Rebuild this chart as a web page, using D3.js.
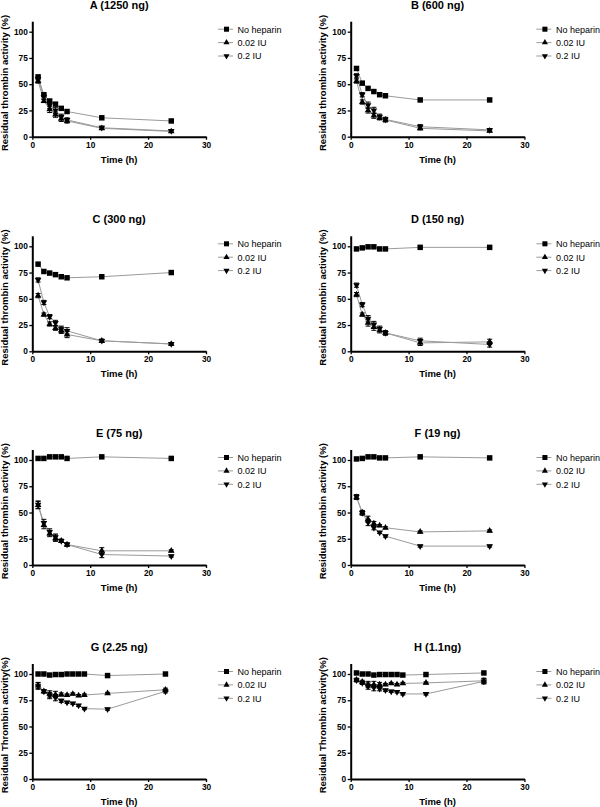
<!DOCTYPE html>
<html>
<head>
<meta charset="utf-8">
<script src="https://cdn.jsdelivr.net/npm/d3@7/dist/d3.min.js"></script>
<style>
html,body{margin:0;padding:0;background:#fff;}
svg{display:block;font-family:"Liberation Sans",Arial,Helvetica,sans-serif;}
</style>
</head>
<body>
<svg id="chart" width="600" height="807"></svg>
<script>
// ---- data ----
const seriesNames = ["No heparin", "0.02 IU", "0.2 IU"];
const timesAF = [1, 2, 3, 4, 5, 6, 12, 24];
const timesGH = [1, 2, 3, 4, 5, 6, 7, 8, 9, 13, 23];
const xTicks = [0, 10, 20, 30];
const yTicks = [0, 25, 50, 75, 100];
const titles = ["A (1250 ng)", "B (600 ng)", "C (300 ng)", "D (150 ng)", "E (75 ng)", "F (19 ng)", "G (2.25 ng)", "H (1.1ng)"];
const yLabels = ["Residual thrombin activity (%)", "Residual thrombin activity (%)", "Residual thrombin activity (%)", "Residual thrombin activity (%)",
  "Residual thrombin activity (%)", "Residual thrombin activity (%)", "Residual Thrombin activity(%)", "Residual Thrombin activity(%)"];

const A_noHeparin = [57, 40, 34, 31, 27, 24, 18, 15];
const A_iu002 = [53, 34, 26, 21, 17, 15, 8, 5];
const A_iu02 = [55, 38, 30, 25, 19, 16, 8.5, 5.5];
const A_err002 = [2, 1.5, 3, 2.5, 2.5, 2, 1, 1];
const A_err02 = [2, 2, 3, 3, 2.5, 2, 1.5, 1];

const B_noHeparin = [65, 51, 46, 43, 40, 39, 35, 35];
const B_iu002 = [53, 33, 25, 20, 18, 16, 8, 5.5];
const B_iu02 = [58, 40, 30, 25, 19, 16.5, 9.5, 6.5];
const B_err002 = [2, 2, 2.5, 2.5, 2, 2, 1.5, 1];
const B_err02 = [2, 2, 3, 3, 2.5, 2, 2, 1];

const C_noHeparin = [83, 76, 74.5, 73, 71, 70, 71, 75];
const C_iu002 = [53, 35, 26, 22, 20, 16, 10, 7];
const C_iu02 = [68, 46.5, 33, 27, 21, 19.5, 10, 7];
const C_err002 = [2, 1.5, 2, 2, 3, 3, 1.5, 1];
const C_err02 = [2, 2, 2, 2.5, 3, 3, 1.5, 1];

const D_noHeparin = [97.5, 98.5, 99.5, 99.5, 97.5, 97.5, 99, 99];
const D_iu002 = [54, 35, 27, 23, 20, 17.5, 8, 9];
const D_iu02 = [63, 44.5, 31, 25.5, 21.5, 17.5, 10, 6.5];
const D_err002 = [2, 1.5, 3, 3, 2.5, 2, 2.5, 2.5];
const D_err02 = [2, 2, 3, 3, 2.5, 2, 2.5, 2.5];

const E_noHeparin = [101.5, 101.5, 103, 103, 103, 101.5, 103, 101.5];
const E_iu002 = [57, 38, 30, 25.5, 23, 19.5, 13.5, 13.5];
const E_iu02 = [57.5, 40, 31.5, 26.5, 23, 19.5, 10, 8.5];
const E_err002 = [3.5, 3.5, 3, 3, 1.5, 1.5, 3, 1];
const E_err02 = [3.5, 3.5, 3, 3, 1.5, 1.5, 3, 1];

const F_noHeparin = [101, 101.5, 103, 103, 102, 102, 103, 102];
const F_iu002 = [64.5, 50, 43.5, 39.5, 37.5, 35.5, 31.5, 32.5];
const F_iu02 = [65, 49.5, 40.5, 35.5, 31, 27.5, 18, 18];
const F_err002 = [2, 2, 3, 2, 1, 1, 1, 1];
const F_err02 = [2, 2, 3, 2, 1, 1, 1, 1];

const G_noHeparin = [100, 100, 99, 99.5, 99.5, 100, 100, 100, 100, 98.5, 100];
const G_iu002 = [89, 83.5, 81, 80.5, 80.5, 80, 81, 79.5, 80, 81.5, 85];
const G_iu02 = [88.5, 83.5, 79.5, 77.5, 74.5, 73, 72, 70, 67, 66.5, 83.5];
const G_err002 = [3, 1.5, 3, 3, 1.5, 1, 1, 1, 1, 1, 1.5];
const G_err02 = [3, 1.5, 3, 3, 1.5, 1, 1, 1, 1, 1, 1.5];

const H_noHeparin = [101, 100, 100, 99, 99.5, 99.5, 99.5, 99.5, 99, 99.5, 101];
const H_iu002 = [94.5, 92.5, 90, 90, 90, 90, 91, 90, 91, 91.5, 93.5];
const H_iu02 = [94, 91.5, 88.5, 87, 86, 84.5, 83.5, 83, 81, 81, 93];
const H_err002 = [1.5, 1.5, 3, 3, 2, 1, 1, 1, 1, 1, 2.5];
const H_err02 = [1.5, 1.5, 3, 3, 2, 1, 1, 1, 1, 1, 2.5];

const panelData = [
  [timesAF, [A_noHeparin, A_iu002, A_iu02], [null, A_err002, A_err02]],
  [timesAF, [B_noHeparin, B_iu002, B_iu02], [null, B_err002, B_err02]],
  [timesAF, [C_noHeparin, C_iu002, C_iu02], [null, C_err002, C_err02]],
  [timesAF, [D_noHeparin, D_iu002, D_iu02], [null, D_err002, D_err02]],
  [timesAF, [E_noHeparin, E_iu002, E_iu02], [null, E_err002, E_err02]],
  [timesAF, [F_noHeparin, F_iu002, F_iu02], [null, F_err002, F_err02]],
  [timesGH, [G_noHeparin, G_iu002, G_iu02], [null, G_err002, G_err02]],
  [timesGH, [H_noHeparin, H_iu002, H_iu02], [null, H_err002, H_err02]]
];

// ---- layout ----
const svg = d3.select("#chart");
const colX = [32.3, 350.7];
const rowY = [136.7, 351.3, 565, 779];
const plotW = 173.7;
const plotH = 115.5;

const symbolTypes = [d3.symbolSquare, d3.symbolTriangle, d3.symbolTriangle];
const symbolSizes = [30, 19, 19];
const symbolRot = [0, 0, 180];
const lineColor = "#9a9a9a";

panelData.forEach((pd, i) => {
  const [times, series, errs] = pd;
  const ox = colX[i % 2];
  const oy = rowY[Math.floor(i / 2)];
  const g = svg.append("g").attr("transform", `translate(${ox},${oy - plotH})`);
  const x = d3.scaleLinear().domain([0, 30]).range([0, plotW]);
  const y = d3.scaleLinear().domain([0, 110]).range([plotH, 0]);

  // title
  g.append("text").attr("x", plotW / 2).attr("y", -12.5)
    .attr("text-anchor", "middle").attr("font-weight", "bold").attr("font-size", "11px")
    .text(titles[i]);

  // lines
  const line = d3.line().x((d, j) => x(times[j])).y(d => y(d));
  series.forEach((s, si) => {
    g.append("path").datum(s).attr("d", line)
      .attr("fill", "none").attr("stroke", lineColor).attr("stroke-width", 1);
  });

  // error bars
  series.forEach((s, si) => {
    const e = errs[si];
    if (!e) return;
    s.forEach((v, j) => {
      const cx = x(times[j]);
      const y1 = y(v - e[j]), y2 = y(v + e[j]);
      g.append("line").attr("x1", cx).attr("x2", cx).attr("y1", y1).attr("y2", y2)
        .attr("stroke", "#000").attr("stroke-width", 1);
      [y1, y2].forEach(yy => g.append("line").attr("x1", cx - 2.5).attr("x2", cx + 2.5)
        .attr("y1", yy).attr("y2", yy).attr("stroke", "#000").attr("stroke-width", 1));
    });
  });

  // markers
  series.forEach((s, si) => {
    const sym = d3.symbol().type(symbolTypes[si]).size(symbolSizes[si]);
    g.selectAll(null).data(s).enter().append("path")
      .attr("d", sym)
      .attr("transform", (d, j) => `translate(${x(times[j])},${y(d)}) rotate(${symbolRot[si]})`)
      .attr("fill", "#000");
  });

  // axes
  const xAxis = d3.axisBottom(x).tickValues(xTicks).tickSize(3).tickSizeOuter(0).tickPadding(2);
  const yAxis = d3.axisLeft(y).tickValues(yTicks).tickSize(3).tickSizeOuter(0).tickPadding(1.5);
  const gx = g.append("g").attr("transform", `translate(0,${plotH})`).call(xAxis);
  const gy = g.append("g").call(yAxis);
  [gx, gy].forEach(ax => {
    ax.select(".domain").attr("stroke", "#000").attr("stroke-width", 2);
    ax.selectAll(".tick line").attr("stroke", "#000").attr("stroke-width", 1.3);
    ax.selectAll(".tick text").attr("font-family", "Liberation Sans, Arial, sans-serif")
      .attr("font-size", "8.3px").attr("font-weight", "bold").attr("fill", "#000");
  });

  // axis labels
  g.append("text").attr("x", plotW / 2).attr("y", plotH + 26)
    .attr("text-anchor", "middle").attr("font-weight", "bold").attr("font-size", "9.5px")
    .text("Time (h)");
  g.append("text").attr("transform", `translate(-24.5,${plotH / 2 + 4}) rotate(-90)`)
    .attr("text-anchor", "middle").attr("font-weight", "bold").attr("font-size", "9.5px")
    .text(yLabels[i]);

  // legend
  seriesNames.forEach((name, si) => {
    const ly = 8 + si * 13.4;
    const lg = g.append("g").attr("transform", `translate(${plotW + 12},${ly})`);
    lg.append("line").attr("x1", 0).attr("x2", 15).attr("y1", 0).attr("y2", 0)
      .attr("stroke", lineColor).attr("stroke-width", 1);
    lg.append("path").attr("d", d3.symbol().type(symbolTypes[si]).size(symbolSizes[si] * 0.85))
      .attr("transform", `translate(8.5,0) rotate(${symbolRot[si]})`).attr("fill", "#000");
    lg.append("text").attr("x", 19.5).attr("y", 3.4).attr("font-size", "9px").text(name);
  });
});
</script>
</body>
</html>
